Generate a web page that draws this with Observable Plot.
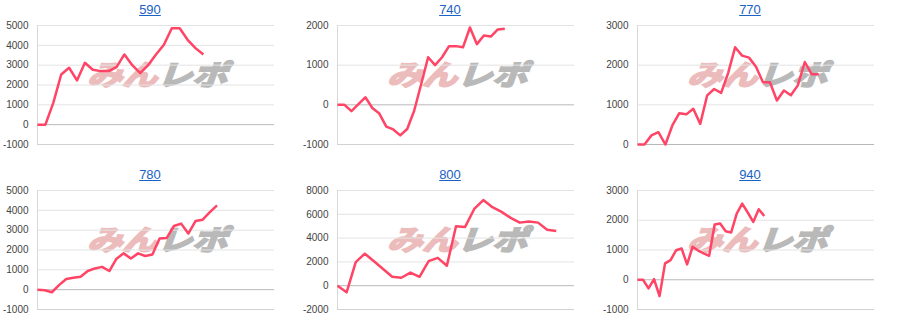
<!DOCTYPE html>
<html><head><meta charset="utf-8">
<script src="https://cdn.jsdelivr.net/npm/d3@7"></script>
<script src="https://cdn.jsdelivr.net/npm/@observablehq/plot@0.6"></script>
<style>
body{margin:0;background:#fff;font-family:Arial,"Liberation Sans",sans-serif}
#grid{display:grid;grid-template-columns:300px 300px 300px;grid-template-rows:165px 165px;width:900px}
.panel{position:relative;width:300px;height:165px;overflow:hidden}
.title{position:absolute;top:2px;left:0;width:300px;text-align:center;font-size:13px;line-height:15px;z-index:3}
.title a{color:#1a62c4;text-decoration:underline}
.wm{position:absolute;left:97px;top:57px;z-index:0;white-space:nowrap;font-family:"Noto Sans CJK JP";font-weight:700;font-size:28px;line-height:32px;transform-origin:0 0;transform:scale(1.25,1) skewX(-16deg);letter-spacing:0px}
.wm .a{color:#ecbcbc;-webkit-text-stroke:2px #ecbcbc}.wm .b{color:#b9b9b9;-webkit-text-stroke:2px #b9b9b9}
.panel svg{position:absolute;left:0;top:0;z-index:1;background:transparent}
</style></head>
<body><div id="grid"></div>
<script>
const titles = ["590", "740", "770", "780", "800", "940"];
const s590 = [0,0,1100,2530,2870,2230,3120,2770,2700,2700,2900,3540,3000,2600,3000,3540,4030,4860,4860,4280,3860,3540];
const s740 = [0,0,-160,15,190,-80,-220,-550,-620,-770,-610,-150,520,1200,1000,1200,1480,1480,1450,1950,1530,1750,1720,1900,1920];
const s770 = [0,0,230,310,0,480,790,760,900,520,1240,1400,1300,1800,2450,2240,2190,1960,1570,1570,1110,1360,1240,1490,2080,1770,1770];
const s780 = [0,-30,-130,230,540,600,650,940,1070,1150,940,1560,1830,1570,1830,1700,1770,2580,2610,3210,3330,2830,3460,3530,3910,4250];
const s800 = [0,-560,1980,2690,2050,1400,750,670,1100,750,2060,2340,1680,4990,4940,6450,7200,6600,6200,5700,5300,5400,5300,4700,4600];
const s940 = [0,0,-290,20,-550,550,660,990,1050,515,1110,980,885,805,1855,1890,1630,1590,2225,2560,2260,1945,2370,2145];
const xMax = [30, 34, 34, 33, 26, 43];
const yMin = [-1000, -1000, 0, -1000, -2000, -1000];
const yMax = [5000, 2000, 3000, 5000, 8000, 3000];
const yStep = [1000, 1000, 1000, 1000, 2000, 1000];
const seriesList = [s590, s740, s770, s780, s800, s940];

const grid = document.getElementById("grid");
titles.forEach((t, i) => {
  const vals = seriesList[i];
  const data = vals.map((v, j) => ({x: j, y: v}));
  const ticks = d3.range(yMin[i], yMax[i] + 1, yStep[i]);
  const panel = document.createElement("div");
  panel.className = "panel";
  panel.innerHTML = `<div class="title"><a href="#">${t}</a></div><div class="wm"><span class="a">みん</span><span class="b">レポ</span></div>`;
  const chart = Plot.plot({
    width: 300, height: 165,
    marginTop: 25, marginBottom: 21, marginLeft: 37, marginRight: 26,
    style: {background: "transparent", fontFamily: "Arial, 'Liberation Sans', sans-serif"},
    x: {domain: [0, xMax[i]], axis: null},
    y: {domain: [yMin[i], yMax[i]], axis: null},
    marks: [
      Plot.ruleY(ticks.filter(v => v !== 0 && v !== yMin[i]), {stroke: "#e3e3e3", strokeWidth: 1}),
      Plot.ruleY([yMin[i]], {stroke: "#d2d2d2", strokeWidth: 1}),
      Plot.ruleX([0], {stroke: "#d8d8d8", strokeWidth: 1}),
      Plot.ruleY([0], {stroke: "#b8b8b8", strokeWidth: 1}),
      Plot.axisY({ticks, label: null, tickSize: 0, tickPadding: 9, fontSize: 10, color: "#444", tickFormat: d => String(d)}),
      Plot.line(data, {x: "x", y: "y", stroke: "#ff4466", strokeWidth: 2.5, strokeLinejoin: "round", strokeLinecap: "butt"})
    ]
  });
  panel.appendChild(chart);
  grid.appendChild(panel);
});
</script>
</body></html>
